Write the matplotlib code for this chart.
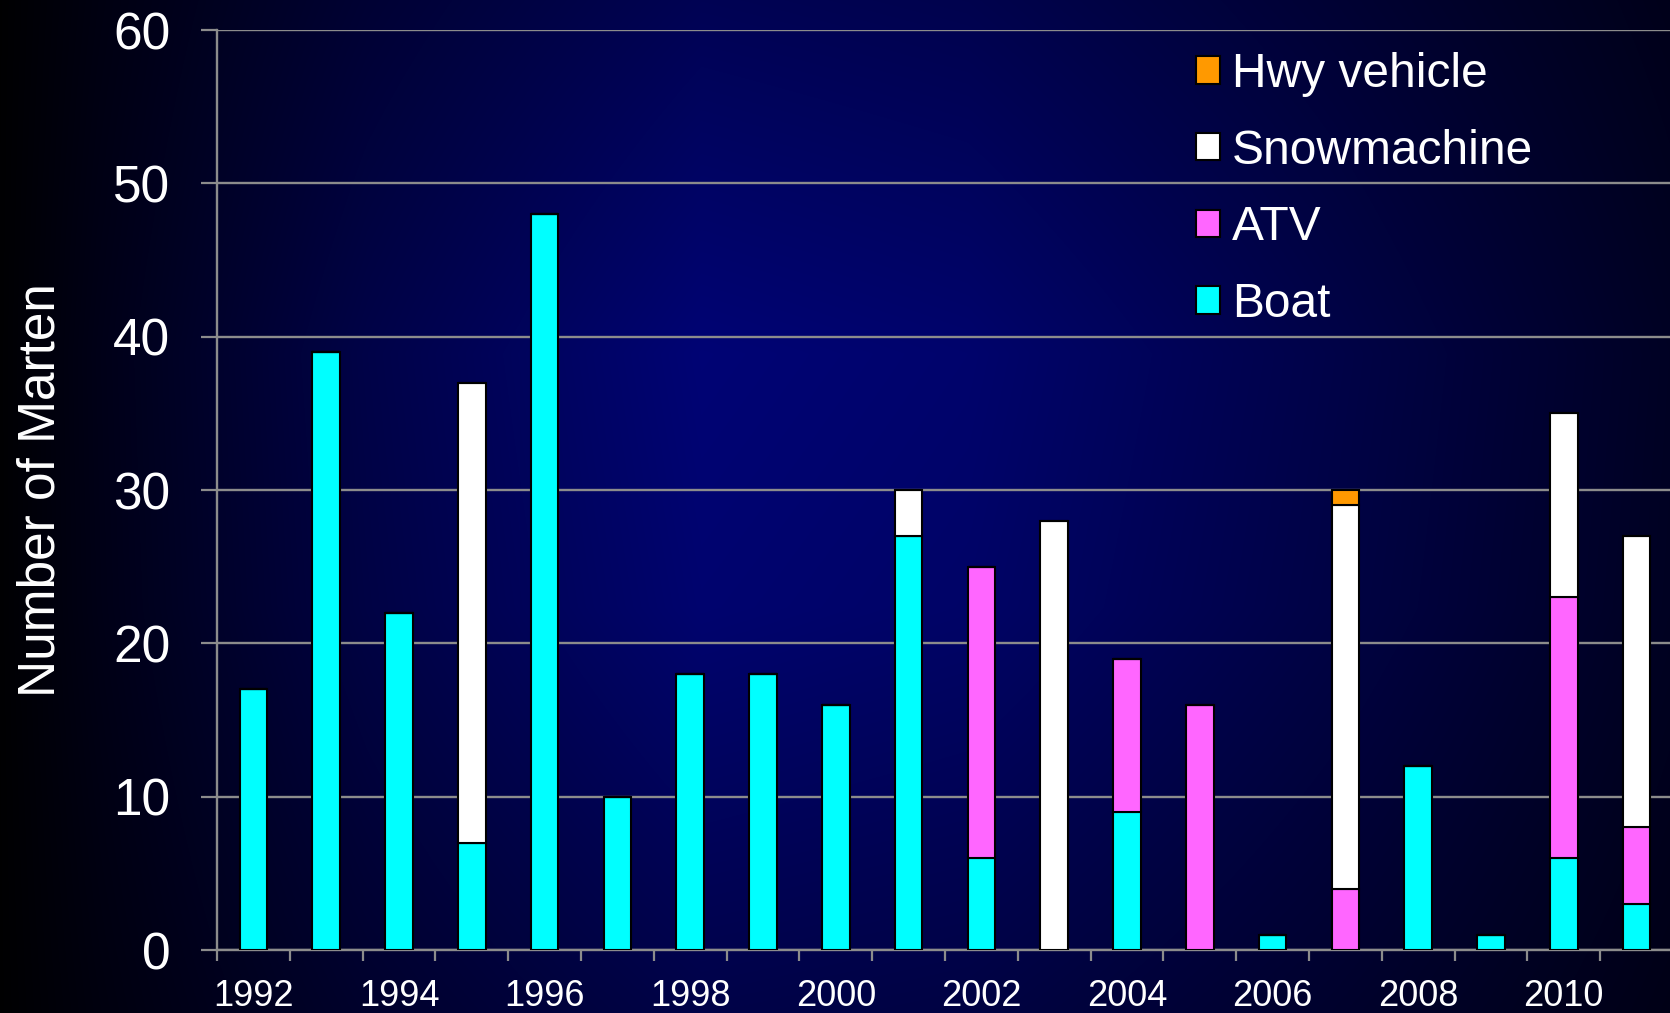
import matplotlib
matplotlib.use("Agg")
import matplotlib.pyplot as plt
import numpy as np
from matplotlib.patches import Patch

plt.rcParams['font.family'] = ['Liberation Sans', 'DejaVu Sans']

# Marten caught per year, by means of transport
years = list(range(1992, 2012))
boat = [17, 39, 22, 7, 48, 10, 18, 18, 16, 27, 6, 0, 9, 0, 1, 0, 12, 1, 6, 3]
atv = [0, 0, 0, 0, 0, 0, 0, 0, 0, 0, 19, 0, 10, 16, 0, 4, 0, 0, 17, 5]
snowmachine = [0, 0, 0, 30, 0, 0, 0, 0, 0, 3, 0, 28, 0, 0, 0, 25, 0, 0, 12, 19]
hwy_vehicle = [0, 0, 0, 0, 0, 0, 0, 0, 0, 0, 0, 0, 0, 0, 0, 1, 0, 0, 0, 0]

series = [
    ("Boat", boat, "#00FFFF"),
    ("ATV", atv, "#FF66FF"),
    ("Snowmachine", snowmachine, "#FFFFFF"),
    ("Hwy vehicle", hwy_vehicle, "#FF9900"),
]

W, H = 1670, 1013
fig = plt.figure(figsize=(W / 100, H / 100), dpi=100)

# dark blue backdrop, black at the left edge, brightest a bit left of centre
bg = fig.add_axes([0, 0, 1, 1], zorder=-10)
gx = np.linspace(0, 1, W)
gy = np.linspace(0, 1, H)
fx = np.interp(gx, [0, 0.06, 0.22, 0.42, 0.58, 0.8, 1.0],
               [0.02, 0.2, 0.6, 0.97, 0.9, 0.6, 0.3])
fy = np.interp(gy, [0, 0.35, 0.6, 1.0], [0.72, 1.0, 0.95, 0.62])
shade = np.outer(fy, fx)
img = np.zeros((H, W, 3))
img[..., 1] = 4 / 255 * shade
img[..., 2] = 120 / 255 * shade
bg.imshow(img, aspect='auto', extent=[0, 1, 0, 1], origin='upper')
bg.axis('off')

ax = fig.add_axes([217 / W, 63 / H, 1456 / W, 920 / H])
ax.patch.set_alpha(0)

x = np.arange(len(years))
bottom = np.zeros(len(years))
for name, vals, col in series:
    vals = np.array(vals)
    ax.bar(x, vals, width=0.38, bottom=bottom, color=col,
           edgecolor='black', linewidth=1.5, label=name, zorder=3)
    bottom += vals

ax.set_xlim(-0.5, len(years) - 0.5)
ax.set_ylim(0, 60)
ax.set_yticks(range(0, 61, 10))
ax.yaxis.grid(True, color='#8c8c8c', linewidth=1.7)
ax.set_axisbelow(True)

# tick marks between the years, labels under every other bar
ax.set_xticks(np.arange(-0.5, len(years), 1.0))
ax.set_xticklabels([])
ax.set_xticks(x[::2], minor=True)
ax.set_xticklabels([str(y) for y in years[::2]], minor=True)
ax.tick_params(axis='x', which='major', direction='out', length=8,
               width=1.6, color='#8c8c8c')
ax.tick_params(axis='x', which='minor', length=0, pad=21,
               labelsize=26, labelcolor='white')
ax.tick_params(axis='y', direction='out', length=11.5, width=1.6,
               color='#8c8c8c', pad=22, labelsize=37, labelcolor='white')

for side in ['top', 'right']:
    ax.spines[side].set_visible(False)
for side in ['left', 'bottom']:
    ax.spines[side].set_color('#8c8c8c')
    ax.spines[side].set_linewidth(1.7)

ax.set_ylabel("Number of Marten", fontsize=37, color='white')
ax.yaxis.set_label_coords(-0.104, 0.5)

handles = [Patch(facecolor=col, edgecolor='black', linewidth=1.5, label=name)
           for name, vals, col in reversed(series)]
leg = ax.legend(handles=handles, loc='upper left', frameon=False,
                bbox_to_anchor=(1196 / W, 1 - 52 / H),
                bbox_transform=fig.transFigure, fontsize=34.5,
                handlelength=0.5, handleheight=0.5, handletextpad=0.25,
                labelspacing=0.66, borderpad=0, borderaxespad=0)
for t in leg.get_texts():
    t.set_color('white')

fig.savefig("out.png", dpi=100)
